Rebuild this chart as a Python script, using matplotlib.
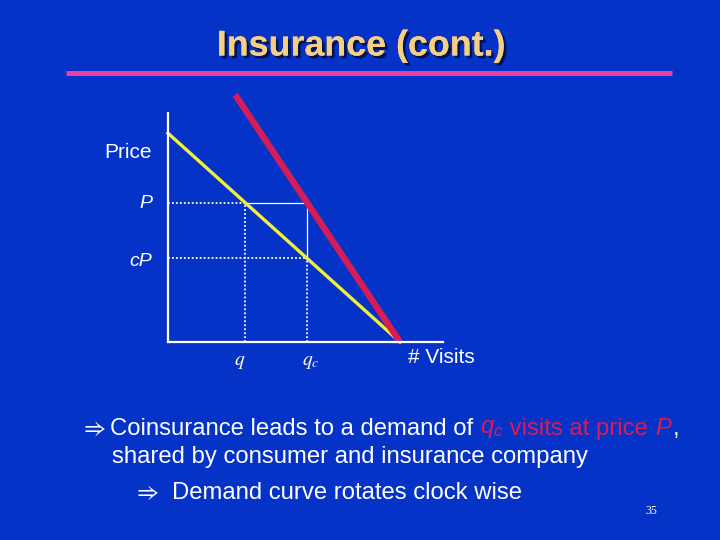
import matplotlib
matplotlib.use("Agg")
import matplotlib.pyplot as plt
import matplotlib.patheffects as pe

plt.rcParams['font.family'] = ['Liberation Sans', 'DejaVu Sans']
plt.rcParams['mathtext.fontset'] = 'custom'
plt.rcParams['mathtext.it'] = 'Liberation Sans:italic'
plt.rcParams['mathtext.rm'] = 'Liberation Sans'

# demand model (price vs visits)
demand_q = [0, 10]          # original demand curve end points
demand_p = [9, 0]
insured_q = [2.9, 10]       # rotated demand curve with coinsurance
insured_p = [10.65, 0]
q = 3.33                    # visits at full price P
qc = 6.0                    # visits at price cP
P = 6.0
cP = 3.6

bg = '#0533c8'
red = '#d81c55'
yellow = '#f2f03a'

fig = plt.figure(figsize=(7.2, 5.4), dpi=100, facecolor=bg)

# full-figure layer for slide text
bgax = fig.add_axes([0, 0, 1, 1])
bgax.set_xlim(0, 720)
bgax.set_ylim(540, 0)
bgax.axis('off')

bgax.text(361, 46, 'Insurance (cont.)', fontsize=25.8, fontweight='bold',
          color='#f6cf82', ha='center', va='center',
          path_effects=[pe.withSimplePatchShadow(offset=(2, -2), shadow_rgbFace='#000000', alpha=0.6),
                        pe.Normal()])
bgax.plot([66, 672], [72.5, 72.5], color='#e83fa0', lw=3.6, solid_capstyle='butt')

# chart axes: origin at the corner of the axes
ax = fig.add_axes([168 / 720, 198 / 540, 275 / 720, 248.2 / 540])
ax.set_facecolor('none')
ax.set_xlim(0, 275 / 23.2)
ax.set_ylim(0, 248.2 / 23.2)
for s in ['top', 'right']:
    ax.spines[s].set_visible(False)
for s in ['left', 'bottom']:
    ax.spines[s].set_color('white')
    ax.spines[s].set_linewidth(1.6)
ax.spines['left'].set_bounds(0, 9.87)
ax.set_xticks([])
ax.set_yticks([])

# guide lines
ax.plot([0, q], [P, P], color='white', lw=1.3, ls=(0, (1, 1.2)))
ax.plot([0, qc], [cP, cP], color='white', lw=1.3, ls=(0, (1, 1.2)))
ax.plot([q, q], [0, P], color='white', lw=1.3, ls=(0, (1, 1.2)))
ax.plot([qc, qc], [0, cP], color='white', lw=1.3, ls=(0, (1, 1.2)))
ax.plot([q, qc, qc], [P, P, cP], color='white', lw=0.9)

ax.plot(demand_q, demand_p, color=yellow, lw=2.4, clip_on=False)
ax.plot(insured_q, insured_p, color=red, lw=4.6, clip_on=False, solid_capstyle='butt')

ax.text(-0.68, 8.15, 'Price', color='white', fontsize=15, ha='right', va='center')
ax.text(-0.68, P - 0.03, 'P', color='white', fontsize=14, style='italic', ha='right', va='center')
ax.text(-0.68, cP - 0.12, 'cP', color='white', fontsize=14, style='italic', ha='right', va='center')
ax.text(q - 0.25, -0.9, '$q$', color='white', fontsize=14, ha='center', va='center',
        math_fontfamily='stix')
ax.text(qc + 0.15, -0.9, '$q_c$', color='white', fontsize=14, ha='center', va='center',
        math_fontfamily='stix')
ax.text(10.34, -0.68, '# Visits', color='white', fontsize=15, ha='left', va='center')

# bullet text
fs = 17.2
bgax.text(80, 435, r'$\Rightarrow$', color='white', fontsize=fs, ha='left', va='baseline',
          math_fontfamily='stix')
t = bgax.text(110, 435, 'Coinsurance leads to a demand of ', color='white',
              fontsize=fs, ha='left', va='baseline')
for s, c in [('$q_c$', red), (' visits at price ', red), ('$P$', red), (',', 'white')]:
    t = bgax.annotate(s, xy=(1, 0), xycoords=t, va='bottom', ha='left',
                      color=c, fontsize=fs)
bgax.text(112, 463, 'shared by consumer and insurance company', color='white',
          fontsize=fs, ha='left', va='baseline')
bgax.text(133, 499, r'$\Rightarrow$', color='white', fontsize=fs, ha='left', va='baseline',
          math_fontfamily='stix')
bgax.text(172, 499, 'Demand curve rotates clock wise', color='white',
          fontsize=fs, ha='left', va='baseline')
bgax.text(651, 511, '35', color='white', fontsize=8.5, ha='center', va='center',
          family=['Liberation Serif'])

fig.savefig('out.png', dpi=100, facecolor=bg)
